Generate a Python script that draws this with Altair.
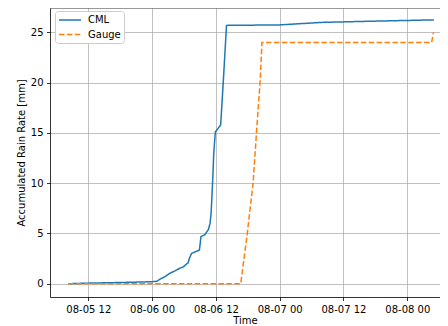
import altair as alt
import pandas as pd

# CML accumulated rain (UTC times, mm)
cml_times = [
    "2020-08-05T08:15", "2020-08-05T12:00", "2020-08-05T18:00", "2020-08-06T00:00",
    "2020-08-06T00:54", "2020-08-06T01:30", "2020-08-06T02:24", "2020-08-06T03:24",
    "2020-08-06T04:12", "2020-08-06T05:15", "2020-08-06T05:48", "2020-08-06T06:48",
    "2020-08-06T07:00", "2020-08-06T07:24", "2020-08-06T08:00", "2020-08-06T08:54",
    "2020-08-06T09:12", "2020-08-06T09:54", "2020-08-06T10:36", "2020-08-06T10:54",
    "2020-08-06T11:06", "2020-08-06T11:24", "2020-08-06T11:36", "2020-08-06T11:54",
    "2020-08-06T12:54", "2020-08-06T13:24", "2020-08-06T14:00", "2020-08-07T00:00",
    "2020-08-07T08:00", "2020-08-07T16:00", "2020-08-08T05:00",
]
cml_values = [
    0.0, 0.06, 0.12, 0.2,
    0.24, 0.46, 0.7, 1.06,
    1.25, 1.55, 1.65, 2.1,
    2.5, 3.0, 3.15, 3.35,
    4.7, 4.86, 5.4, 6.0,
    7.0, 10.3, 13.0, 15.1,
    15.8, 20.2, 25.7, 25.75,
    26.0, 26.1, 26.25,
]

# Gauge accumulated rain
gauge_times = [
    "2020-08-05T08:15", "2020-08-06T16:40", "2020-08-06T17:50", "2020-08-06T19:00",
    "2020-08-06T19:40", "2020-08-06T20:20", "2020-08-06T20:40", "2020-08-08T04:35",
    "2020-08-08T04:55",
]
gauge_values = [0.0, 0.0, 4.7, 10.0, 15.3, 20.2, 24.0, 24.0, 25.0]

series_names = ["CML", "Gauge"]
series_colors = ["#1f77b4", "#ff7f0e"]
series_dashes = [[1, 0], [5.5, 2.4]]

x_tick_times = [(2020, 8, 5, 12), (2020, 8, 6, 0), (2020, 8, 6, 12),
                (2020, 8, 7, 0), (2020, 8, 7, 12), (2020, 8, 8, 0)]
x_domain = [(2020, 8, 5, 4, 48), (2020, 8, 8, 6, 9)]
y_ticks = [0, 5, 10, 15, 20, 25]
y_domain = [-1.32, 27.43]

rows = []
for t, v in zip(cml_times, cml_values):
    rows.append({"time": t + ":00Z", "value": v, "series": "CML"})
for t, v in zip(gauge_times, gauge_values):
    rows.append({"time": t + ":00Z", "value": v, "series": "Gauge"})
df = pd.DataFrame(rows)

W, H = 390, 289


def dt(y, mo, d, h, mi=0):
    return alt.DateTime(year=y, month=mo, date=d, hours=h, minutes=mi, utc=True)


lines = alt.Chart(df).mark_line(strokeWidth=1.5, clip=True).encode(
    x=alt.X(
        "time:T",
        scale=alt.Scale(type="utc", domain=[dt(*x_domain[0]), dt(*x_domain[1])], nice=False),
        axis=alt.Axis(values=[dt(*v) for v in x_tick_times], format="%m-%d %H",
                      title="Time", labelOverlap=False, labelFlush=False, titlePadding=1),
    ),
    y=alt.Y(
        "value:Q",
        scale=alt.Scale(domain=y_domain, nice=False, zero=False),
        axis=alt.Axis(values=y_ticks, title="Accumulated Rain Rate [mm]", titlePadding=4),
    ),
    color=alt.Color(
        "series:N",
        scale=alt.Scale(domain=series_names, range=series_colors),
        title=None,
    ),
    strokeDash=alt.StrokeDash(
        "series:N",
        scale=alt.Scale(domain=series_names, range=series_dashes),
        title=None,
    ),
)

top_spine = alt.Chart(alt.Data(values=[{}])).mark_rule(color="black", strokeWidth=0.8).encode(
    x=alt.value(0), x2=alt.value(W), y=alt.value(0)
)

chart = alt.layer(lines, top_spine).properties(
    width=W, height=H,
    autosize=alt.AutoSizeParams(type="none"),
    padding={"left": 42, "top": 0, "right": 0, "bottom": 28},
).configure_axis(
    labelFont="DejaVu Sans", labelFontSize=10, labelColor="black",
    titleFont="DejaVu Sans", titleFontSize=10, titleFontWeight="normal", titleColor="black",
    domainColor="black", domainWidth=0.8, tickColor="black", tickWidth=0.8, tickSize=3.5,
    labelPadding=3.5, gridColor="#b0b0b0", gridWidth=0.8, grid=True,
).configure_view(stroke="transparent").configure_legend(
    orient="none", legendX=5, legendY=3,
    strokeColor="#cccccc", fillColor="white", cornerRadius=3, padding=3,
    labelFont="DejaVu Sans", labelFontSize=10, labelColor="black",
    symbolType="M-1,0H3.4", symbolSize=100, symbolStrokeWidth=1.5,
    labelOffset=18, rowPadding=3.5,
)

chart.save("out.html", embed_options={"renderer": "svg", "actions": False})
